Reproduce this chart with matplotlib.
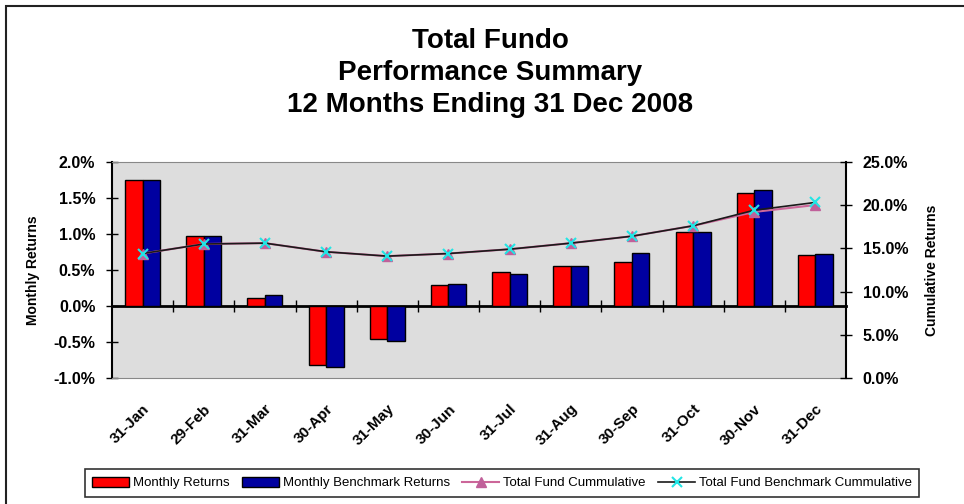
import numpy as np
import matplotlib
matplotlib.use("Agg")
import matplotlib.pyplot as plt
from matplotlib.patches import Rectangle
from matplotlib.ticker import FuncFormatter, MultipleLocator

plt.rcParams['font.family'] = ['Liberation Sans', 'DejaVu Sans']

# Daten (in Prozent)
monate = ['31-Jan', '29-Feb', '31-Mar', '30-Apr', '31-May', '30-Jun',
          '31-Jul', '31-Aug', '30-Sep', '31-Oct', '30-Nov', '31-Dec']
monthly_returns = [1.75, 0.97, 0.11, -0.82, -0.46, 0.29, 0.47, 0.56, 0.61, 1.03, 1.56, 0.71]
benchmark_returns = [1.75, 0.97, 0.16, -0.84, -0.48, 0.30, 0.45, 0.56, 0.73, 1.02, 1.61, 0.72]
fund_cum = [14.4, 15.5, 15.6, 14.6, 14.1, 14.4, 14.9, 15.6, 16.4, 17.6, 19.2, 20.0]
bench_cum = [14.4, 15.5, 15.6, 14.6, 14.1, 14.4, 14.9, 15.6, 16.4, 17.6, 19.4, 20.3]

W, H = 964, 504
fig = plt.figure(figsize=(W / 100, H / 100), dpi=100)

# Rahmen um das Diagramm (nur links/oben sichtbar)
fig.patches.append(Rectangle((6 / W, -0.1), 1.2, 1.1 - 6 / H, transform=fig.transFigure,
                             fill=False, edgecolor='#222222', linewidth=1.5))

ax = fig.add_axes([112 / W, 1 - 378.3 / H, (846 - 112) / W, (378.3 - 161.7) / H])
ax.set_facecolor('#DDDDDD')

x = np.arange(len(monate))
bw = 0.286
ax.bar(x - bw / 2, monthly_returns, bw, color='#FF0000', edgecolor='black', linewidth=1,
       label='Monthly Returns', zorder=2)
ax.bar(x + bw / 2, benchmark_returns, bw, color='#0000A0', edgecolor='black', linewidth=1,
       label='Monthly Benchmark Returns', zorder=2)

ax.set_xlim(-0.5, len(monate) - 0.5)
ax.set_ylim(-1.0, 2.0)
ax.yaxis.set_major_locator(MultipleLocator(0.5))
ax.yaxis.set_major_formatter(FuncFormatter(lambda v, p: f'{v:.1f}%'))
ax.tick_params(axis='y', direction='inout', length=8, width=1, labelsize=11.5, pad=8)
for t in ax.get_yticklabels():
    t.set_fontweight('bold')

ax.set_xticks(x)
ax.set_xticklabels(monate, rotation=45, ha='right', rotation_mode='anchor',
                   fontsize=11, fontweight='bold')
ax.tick_params(axis='x', length=0, pad=17)

for s in ['top', 'bottom']:
    ax.spines[s].set_color('#888888')
ax.spines['left'].set_color('black')
ax.spines['left'].set_linewidth(1.5)
ax.spines['right'].set_visible(False)

# Kategorienachse bei 0
sec = ax.secondary_xaxis((0 - (-1.0)) / 3.0)
sec.set_xticks(np.arange(0.5, len(monate) - 0.5, 1.0))
sec.set_xticklabels([])
sec.tick_params(direction='inout', length=8, width=1)
sec.spines['bottom'].set_linewidth(2)
sec.spines['bottom'].set_color('black')

ax.set_ylabel('Monthly Returns', fontsize=10, fontweight='bold', labelpad=10)

# Kumulierte Renditen
ax2 = ax.twinx()
l1, = ax2.plot(x, fund_cum, color='#CC6699', linewidth=1.5, marker='^', markersize=7,
               markerfacecolor='#C0609A', markeredgecolor='#C0609A',
               label='Total Fund Cummulative', zorder=3)
l2, = ax2.plot(x, bench_cum, color='#1A1A1A', linewidth=1.2, marker='x', markersize=7,
               markeredgecolor='#22E5E5', markeredgewidth=1.5,
               label='Total Fund Benchmark Cummulative', zorder=4)
ax2.set_ylim(0, 25)
ax2.yaxis.set_major_locator(MultipleLocator(5))
ax2.yaxis.set_major_formatter(FuncFormatter(lambda v, p: f'{v:.1f}%'))
ax2.tick_params(axis='y', direction='inout', length=8, width=1, labelsize=11.5, pad=8)
for t in ax2.get_yticklabels():
    t.set_fontweight('bold')
ax2.spines['right'].set_color('black')
ax2.spines['right'].set_linewidth(1.5)
for s in ['top', 'bottom', 'left']:
    ax2.spines[s].set_visible(False)
ax2.set_ylabel('Cumulative Returns', fontsize=10, fontweight='bold', labelpad=12)

fig.text(490 / W, 1 - 73 / H, 'Total Fundo\nPerformance Summary\n12 Months Ending 31 Dec 2008',
         ha='center', va='center', fontsize=20, fontweight='bold', linespacing=1.28)

h1, lab1 = ax.get_legend_handles_labels()
leg = fig.legend(h1 + [l1, l2], lab1 + [l1.get_label(), l2.get_label()],
                 loc='center', bbox_to_anchor=(502 / W, 1 - 483 / H), ncol=4,
                 fontsize=9.5, frameon=True, fancybox=False, edgecolor='black',
                 handlelength=2.8, handleheight=0.8, columnspacing=0.95, handletextpad=0.3,
                 borderpad=0.55)
leg.get_frame().set_linewidth(1.2)

plt.savefig('out.png', dpi=100)
